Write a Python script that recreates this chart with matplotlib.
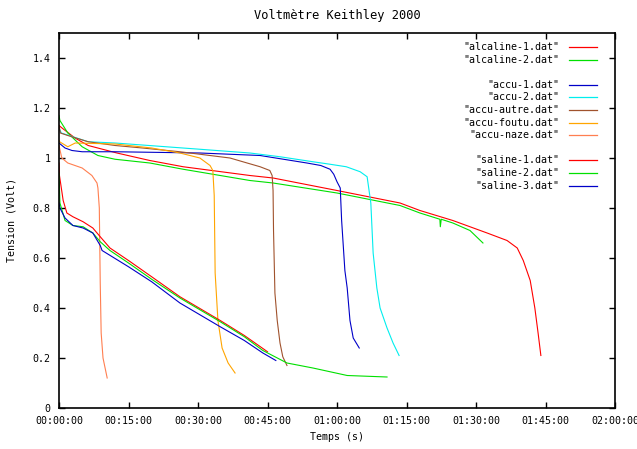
"""
Voltmetre Keithley 2000 : decharge des piles
"""

import numpy as np
import matplotlib
matplotlib.use("Agg")
import matplotlib.pyplot as plt
from matplotlib.ticker import FuncFormatter, MultipleLocator

# temps en minutes, tension en volts
alc1_t = [0, 0.65, 3.45, 6.3, 12.5, 19.6, 26.8, 41.2, 46.2, 60.0, 73.6, 77.9, 85.0,
          92.4, 96.7, 98.9, 100.2, 101.7, 102.7, 103.4, 104.0]
alc1_v = [1.13, 1.12, 1.08, 1.05, 1.02, 0.99, 0.965, 0.93, 0.92, 0.87, 0.82, 0.79, 0.75,
          0.70, 0.67, 0.64, 0.59, 0.51, 0.40, 0.30, 0.21]

alc2_t = [0, 0.2, 1.9, 5.0, 8.4, 12.1, 19.6, 26.8, 41.2, 46.2, 60.0, 73.6, 77.9, 82.2,
          82.3, 82.5, 85.0, 88.7, 91.5]
alc2_v = [1.17, 1.15, 1.10, 1.045, 1.01, 0.995, 0.98, 0.955, 0.91, 0.90, 0.86, 0.81, 0.78,
          0.755, 0.725, 0.755, 0.74, 0.71, 0.66]

accu1_t = [0, 1.3, 2.8, 5.0, 12.1, 30.4, 43.4, 53.5, 56.5, 58.5, 59.3, 60.0, 60.7, 61.0,
           61.7, 62.2, 62.8, 63.5, 64.8]
accu1_v = [1.06, 1.04, 1.03, 1.025, 1.025, 1.02, 1.01, 0.98, 0.97, 0.955, 0.935, 0.905,
           0.88, 0.75, 0.55, 0.48, 0.35, 0.28, 0.24]

accu2_t = [0, 0.5, 6.3, 12.1, 30.4, 41.2, 47.7, 54.8, 58.5, 62.0, 65.0, 66.5, 67.3, 67.8,
           68.6, 69.3, 70.8, 72.1, 73.4]
accu2_v = [1.12, 1.10, 1.065, 1.06, 1.035, 1.02, 1.005, 0.985, 0.975, 0.965, 0.945, 0.925,
           0.82, 0.62, 0.48, 0.40, 0.32, 0.26, 0.21]

autre_t = [0, 0.3, 1.9, 6.3, 12.1, 18.0, 26.1, 36.9, 40.6, 43.4, 45.5, 46.0, 46.2, 46.3,
           46.6, 47.1, 47.7, 48.3, 49.2]
autre_v = [1.13, 1.10, 1.09, 1.065, 1.05, 1.04, 1.025, 1.0, 0.98, 0.965, 0.95, 0.93, 0.87,
           0.71, 0.46, 0.35, 0.26, 0.205, 0.17]

foutu_t = [0, 0.2, 1.9, 3.5, 12.1, 20.0, 26.1, 30.4, 32.6, 33.2, 33.5, 33.7, 34.3, 35.2,
           36.5, 38.0]
foutu_v = [1.07, 1.064, 1.045, 1.06, 1.056, 1.04, 1.02, 1.0, 0.97, 0.95, 0.85, 0.54, 0.35,
           0.24, 0.18, 0.14]

naze_t = [0, 0.6, 1.9, 5.0, 7.1, 8.2, 8.4, 8.7, 8.9, 9.1, 9.5, 10.4]
naze_v = [1.05, 1.0, 0.98, 0.96, 0.93, 0.90, 0.88, 0.80, 0.5, 0.3, 0.2, 0.12]

sal1_t = [0, 0.1, 0.9, 1.7, 3.0, 5.2, 7.3, 8.9, 11.0, 15.0, 20.0, 26.1, 34.8, 40.0, 45.0]
sal1_v = [0.98, 0.93, 0.83, 0.78, 0.765, 0.745, 0.72, 0.685, 0.64, 0.59, 0.525, 0.445,
          0.35, 0.29, 0.225]

sal2_t = [0, 0.2, 1.3, 3.0, 5.2, 7.3, 8.9, 11.0, 15.0, 20.0, 26.1, 34.8, 40.0, 44.0, 49.2,
          54.8, 62.2, 70.8]
sal2_v = [0.94, 0.82, 0.75, 0.73, 0.725, 0.70, 0.665, 0.63, 0.58, 0.515, 0.44, 0.345,
          0.285, 0.23, 0.18, 0.16, 0.13, 0.124]

sal3_t = [0, 0.2, 1.3, 3.0, 5.2, 7.3, 8.9, 9.3, 15.0, 20.0, 26.1, 34.8, 40.0, 44.0, 46.8]
sal3_v = [0.82, 0.80, 0.76, 0.73, 0.72, 0.70, 0.65, 0.63, 0.565, 0.505, 0.42, 0.325,
          0.27, 0.22, 0.19]

series = [
  ('"alcaline-1.dat"', alc1_t, alc1_v, "#ff0000"),
  ('"alcaline-2.dat"', alc2_t, alc2_v, "#00e000"),
  None,
  ('"accu-1.dat"', accu1_t, accu1_v, "#0000c8"),
  ('"accu-2.dat"', accu2_t, accu2_v, "#00eeee"),
  ('"accu-autre.dat"', autre_t, autre_v, "#a0522d"),
  ('"accu-foutu.dat"', foutu_t, foutu_v, "#ffa500"),
  ('"accu-naze.dat"', naze_t, naze_v, "#ff7f50"),
  None,
  ('"saline-1.dat"', sal1_t, sal1_v, "#ff0000"),
  ('"saline-2.dat"', sal2_t, sal2_v, "#00e000"),
  ('"saline-3.dat"', sal3_t, sal3_v, "#0000c8"),
]

plt.rcParams['font.family'] = ['DejaVu Sans Mono']
plt.rcParams['font.size'] = 7.2

fig = plt.figure(figsize=(6.37, 4.49), dpi=100)
ax = fig.add_axes([59/637, 41/449, 556/637, 375/449])

for s in series:
  if s is None:
    continue
  label, t, v, c = s
  ax.plot(np.array(t) * 60, v, color=c, lw=0.8)

# legende a la gnuplot (texte aligne a droite, trait a droite)
y0 = 1 - (47 - 33) / 375
dy = 12.6 / 375
for i, s in enumerate(series):
  if s is None:
    continue
  label, t, v, c = s
  y = y0 - i * dy
  ax.text((559 - 59) / 556, y, label, ha="right", va="center",
          transform=ax.transAxes)
  ax.plot([(569 - 59) / 556, (597 - 59) / 556], [y, y], color=c, lw=0.9,
          transform=ax.transAxes)

def hms(x, pos):
  x = int(round(x))
  return "%02d:%02d:%02d" % (x // 3600, (x % 3600) // 60, x % 60)

ax.set_xlim(0, 7200)
ax.set_ylim(0, 1.5)
ax.xaxis.set_major_locator(MultipleLocator(900))
ax.xaxis.set_major_formatter(FuncFormatter(hms))
ax.yaxis.set_major_locator(MultipleLocator(0.2))
ax.yaxis.set_major_formatter(FuncFormatter(lambda y, p: "%g" % round(y, 1)))
ax.tick_params(direction="in", length=4, width=1, top=True, right=True, pad=6)
for sp in ax.spines.values():
  sp.set_linewidth(1.2)

ax.set_xlabel("Temps (s)")
ax.set_ylabel("Tension (Volt)")
ax.yaxis.set_label_coords(-0.077, 0.5)
ax.set_title("Voltmètre Keithley 2000", pad=10)

fig.savefig("out.png", dpi=100)
